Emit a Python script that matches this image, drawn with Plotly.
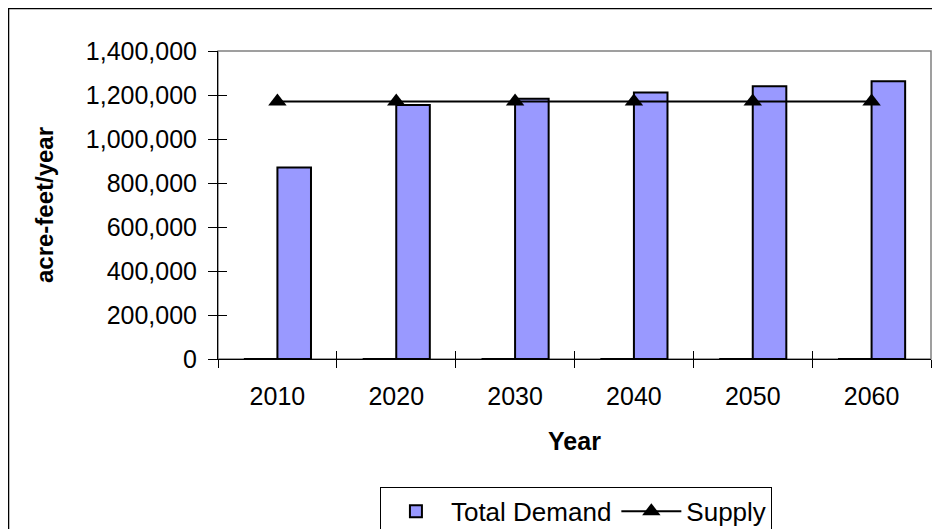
import plotly.graph_objects as go

years = ["2010", "2020", "2030", "2040", "2050", "2060"]
other_values = [0, 0, 0, 0, 0, 0]
total_demand = [870000, 1155000, 1183000, 1211000, 1240000, 1263000]
supply = [1170000, 1170000, 1170000, 1170000, 1170000, 1170000]

y_ticks = [0, 200000, 400000, 600000, 800000, 1000000, 1200000, 1400000]
y_tick_text = ["0", "200,000", "400,000", "600,000", "800,000", "1,000,000", "1,200,000", "1,400,000"]

FONT = "Arial, Liberation Sans, sans-serif"
FS = 25

fig = go.Figure()
fig.add_trace(go.Bar(
    x=years, y=other_values, name="", showlegend=False, hoverinfo="skip",
    marker=dict(color="#9999FF", line=dict(color="black", width=2)),
))
fig.add_trace(go.Bar(
    x=years, y=total_demand, name="Total Demand",
    marker=dict(color="#9999FF", line=dict(color="black", width=2)),
))
fig.add_trace(go.Scatter(
    x=years, y=supply, name="Supply", mode="lines+markers",
    line=dict(color="black", width=2),
    marker=dict(symbol="triangle-up", size=16, color="black"),
))
# helper trace so the overlay axes (crossing tick marks) are drawn
fig.add_trace(go.Scatter(
    x=years, y=supply, xaxis="x2", yaxis="y2", mode="lines",
    line=dict(width=0), showlegend=False, hoverinfo="skip", opacity=0,
))

fig.update_layout(
    width=932, height=521,
    margin=dict(l=210, r=9, t=43, b=170, autoexpand=False),
    paper_bgcolor="white", plot_bgcolor="white",
    font=dict(family=FONT, size=FS, color="black"),
    barmode="group", bargap=0.435, bargroupgap=0,
    showlegend=True,
    legend=dict(
        orientation="h", x=0.502, xanchor="center", y=-0.415, yanchor="top",
        bordercolor="black", borderwidth=1, bgcolor="white",
        font=dict(family=FONT, size=26), itemwidth=60,
        tracegroupgap=0,
    ),
    xaxis=dict(
        type="category", tickson="boundaries", ticks="outside", ticklen=8,
        tickcolor="black", showline=True, linecolor="black", linewidth=1,
        showgrid=False, zeroline=False, automargin=False,
        ticklabelstandoff=15,
        title=dict(text="<b>Year</b>", font=dict(size=FS), standoff=23),
        tickfont=dict(size=FS),
    ),
    yaxis=dict(
        range=[0, 1400000], tickvals=y_ticks, ticktext=y_tick_text,
        ticks="outside", ticklen=9, tickcolor="black",
        showline=True, linecolor="black", linewidth=1,
        showgrid=False, zeroline=False, automargin=False,
        ticklabelstandoff=6,
        title=dict(text="<b>acre-feet/year</b>", font=dict(size=24), standoff=25),
        tickfont=dict(size=FS),
    ),
    xaxis2=dict(
        type="category", overlaying="x", matches="x", anchor="y", side="bottom",
        tickson="boundaries", ticks="inside", ticklen=8, tickcolor="black",
        showticklabels=False, showline=False, showgrid=False, zeroline=False,
    ),
    yaxis2=dict(
        overlaying="y", matches="y", anchor="x", side="left",
        tickvals=y_ticks, ticks="inside", ticklen=9, tickcolor="black",
        showticklabels=False, showline=False, showgrid=False, zeroline=False,
    ),
    shapes=[
        dict(type="rect", xref="paper", yref="paper", x0=0, x1=1, y0=0, y1=1,
             line=dict(color="#808080", width=1.5), layer="below"),
        dict(type="rect", xref="paper", yref="paper", x0=-0.2938, x1=1.03, y0=-0.6, y1=1.138,
             line=dict(color="black", width=1.5), layer="below"),
    ],
)

fig.write_html("out.html")
